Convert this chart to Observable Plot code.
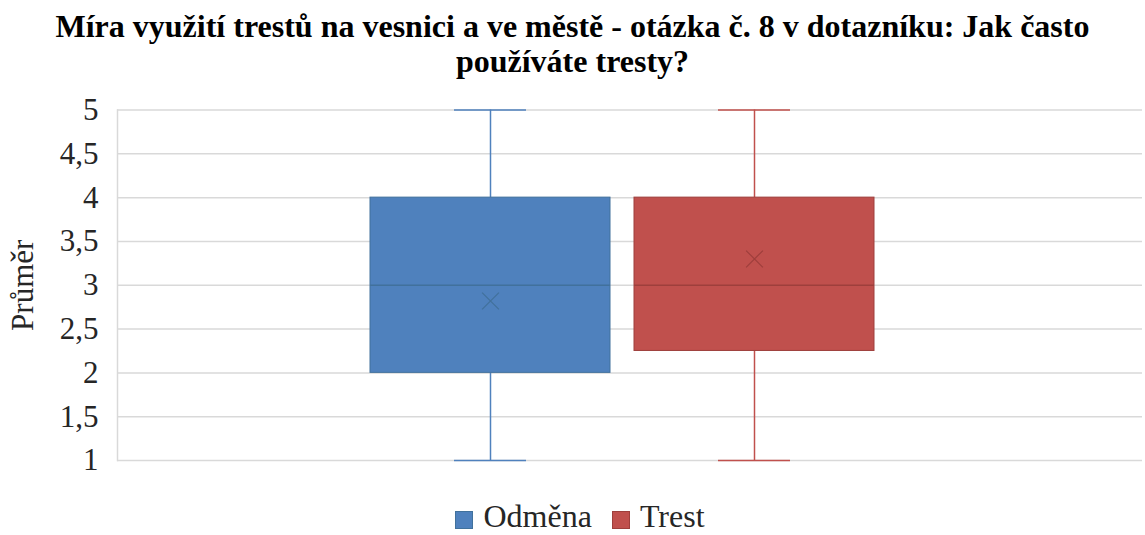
<!DOCTYPE html>
<html>
<head>
<meta charset="utf-8">
<script src="https://cdn.jsdelivr.net/npm/d3@7"></script>
<script src="https://cdn.jsdelivr.net/npm/@observablehq/plot@0.6"></script>
</head>
<body style="margin:0;padding:0;background:#fff;">
<div id="wrap" style="position:relative;width:1145px;height:535px;overflow:hidden;">
  <div id="title" style="position:absolute;left:0;top:9px;width:1145px;text-align:center;font-weight:bold;font-size:32px;line-height:35px;color:#000;">Míra využití trestů na vesnici a ve městě - otázka č. 8 v dotazníku: Jak často<br>používáte tresty?</div>
  <div id="chart" style="position:absolute;left:0;top:90px;"></div>
  <div id="legend" style="position:absolute;left:15px;top:500px;width:1130px;height:32px;display:flex;justify-content:center;align-items:center;font-size:32px;line-height:32px;color:#262626;"></div>
</div>
<script>
const series = ["Odměna", "Trest"];
const minV = [1, 1];
const q1V = [2, 2.25];
const medianV = [3, 3];
const q3V = [4, 4];
const maxV = [5, 5];
const meanV = [2.82, 3.30];
const yTicks = [1, 1.5, 2, 2.5, 3, 3.5, 4, 4.5, 5];
const fills = ["#4F81BD", "#C0504D"];
const darks = ["#41719C", "#9E3F3C"];

const rows = series.map((s, i) => ({
  s, min: minV[i], q1: q1V[i], median: medianV[i], q3: q3V[i], max: maxV[i], mean: meanV[i],
  fill: fills[i], dark: darks[i]
}));

const chart = Plot.plot({
  width: 1145,
  height: 400,
  marginTop: 19.5,
  marginBottom: 30,
  marginLeft: 117,
  marginRight: 3,
  style: { fontFamily: "Liberation Serif", fontSize: "31px", color: "#262626", background: "transparent", overflow: "visible" },
  x: { domain: series, range: [370, 874], paddingInner: 24 / 264, paddingOuter: 0, axis: null },
  y: { domain: [1, 5], axis: null },
  marks: [
    Plot.ruleY(yTicks, { stroke: "#D9D9D9", strokeWidth: 1.5 }),
    Plot.frame({ anchor: "left", stroke: "#D9D9D9", strokeWidth: 1.5 }),
    Plot.axisY({ ticks: yTicks, tickFormat: d => String(d).replace(".", ","), tickSize: 0, tickPadding: 19, label: "Průměr", labelAnchor: "center", labelArrow: "none", labelOffset: 107, fontSize: 31, fill: "#262626" }),
    // whiskers
    Plot.ruleX(rows, { x: "s", y1: "min", y2: "q1", stroke: "fill", strokeWidth: 1.5 }),
    Plot.ruleX(rows, { x: "s", y1: "q3", y2: "max", stroke: "fill", strokeWidth: 1.5 }),
    Plot.tickY(rows, { x: "s", y: "min", stroke: "fill", strokeWidth: 1.5, insetLeft: 84, insetRight: 84 }),
    Plot.tickY(rows, { x: "s", y: "max", stroke: "fill", strokeWidth: 1.5, insetLeft: 84, insetRight: 84 }),
    // boxes
    Plot.barY(rows, { x: "s", y1: "q1", y2: "q3", fill: "fill", stroke: "dark", strokeWidth: 1 }),
    Plot.tickY(rows, { x: "s", y: "median", stroke: "dark", strokeWidth: 1.5 }),
    Plot.dot(rows, { x: "s", y: "mean", symbol: "times", r: 7.7, stroke: "dark", strokeWidth: 1.2 })
  ]
});
document.getElementById("chart").appendChild(chart);

const legend = document.getElementById("legend");
series.forEach((s, i) => {
  const item = document.createElement("div");
  item.style.cssText = "display:flex;align-items:center;margin:0 10px;";
  const sw = document.createElement("span");
  sw.style.cssText = "display:inline-block;width:18px;height:18px;margin-right:10px;box-sizing:border-box;position:relative;top:4px;";
  sw.style.background = fills[i];
  sw.style.border = "1px solid " + darks[i];
  const t = document.createElement("span");
  t.textContent = s;
  item.appendChild(sw);
  item.appendChild(t);
  legend.appendChild(item);
});

document.querySelectorAll("#wrap, #wrap *").forEach(el => {
  el.style.setProperty("font-family", "'Liberation Serif', 'Times New Roman', serif", "important");
});
</script>
</body>
</html>
